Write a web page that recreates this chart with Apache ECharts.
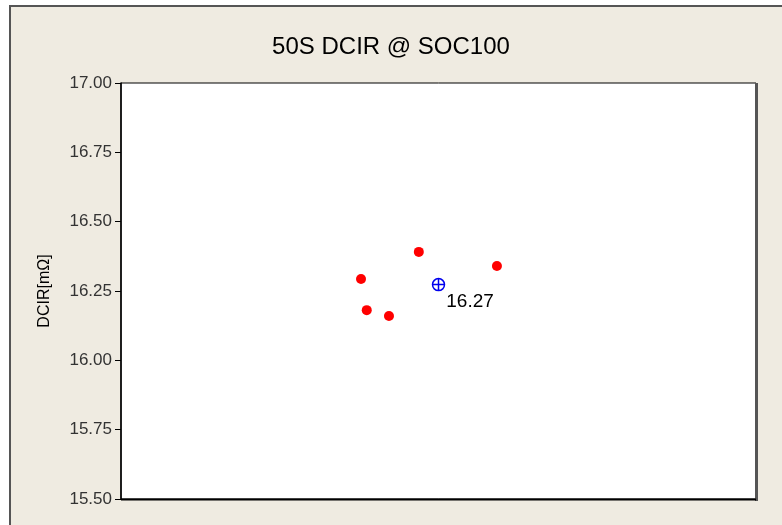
<!DOCTYPE html>
<html>
<head>
<meta charset="utf-8">
<script src="https://cdn.jsdelivr.net/npm/echarts@6/dist/echarts.min.js"></script>
<style>
html,body{margin:0;padding:0;background:#fff;}
#chart{width:782px;height:525px;}
</style>
</head>
<body>
<div id="chart"></div>
<script>
// Data
const titleText = "50S DCIR @ SOC100";
const yAxisName = "DCIR[mΩ]";
const dcirValues = [16.293, 16.181, 16.160, 16.391, 16.340];
const jitterX = [0.378, 0.387, 0.422, 0.469, 0.592];
const meanX = 0.5;
const yMin = 15.5, yMax = 17.0, yStep = 0.25;

const meanVal = dcirValues.reduce((a, b) => a + b, 0) / dcirValues.length;

const chart = echarts.init(document.getElementById('chart'), null, {renderer: 'canvas'});
const font = 'Liberation Sans, Arial, sans-serif';

chart.setOption({
  backgroundColor: '#ffffff',
  animation: false,
  graphic: [
    {type: 'rect', z: -10, silent: true,
     shape: {x: 10, y: 6, width: 800, height: 560},
     style: {fill: '#EFEBE1', stroke: '#555555', lineWidth: 2}},
    {type: 'line', z: 100, silent: true,
     shape: {x1: 756.5, y1: 83, x2: 756.5, y2: 501},
     style: {stroke: '#555555', lineWidth: 3}},
    {type: 'line', z: 100, silent: true,
     shape: {x1: 121, y1: 499.5, x2: 756, y2: 499.5},
     style: {stroke: '#000000', lineWidth: 2}}
  ],
  title: {
    text: titleText, left: 'center', top: 30,
    textStyle: {fontFamily: font, fontSize: 24, fontWeight: 'normal', color: '#000'}
  },
  grid: {
    left: 121, top: 83, right: 26, bottom: 26,
    show: true, backgroundColor: '#ffffff', borderColor: '#000', borderWidth: 1
  },
  xAxis: {
    type: 'value', min: 0, max: 1,
    show: false
  },
  yAxis: {
    type: 'value', min: yMin, max: yMax, interval: yStep,
    name: yAxisName, nameLocation: 'middle', nameGap: 68, nameRotate: 90,
    nameTextStyle: {fontFamily: font, fontSize: 16, color: '#000'},
    axisLine: {show: true, lineStyle: {color: '#000', width: 1.5}},
    axisTick: {show: true, length: 6, lineStyle: {color: '#000'}},
    axisLabel: {
      fontFamily: font, fontSize: 17, color: '#333', margin: 9,
      formatter: v => v.toFixed(2)
    },
    splitLine: {show: false}
  },
  series: [
    {
      type: 'scatter',
      symbol: 'circle', symbolSize: 10,
      itemStyle: {color: '#FF0000', opacity: 1},
      data: dcirValues.map((v, i) => [jitterX[i], v])
    },
    {
      type: 'scatter',
      symbol: 'path://M0,-10A10,10 0 1,1 0,10A10,10 0 1,1 0,-10ZM-10,0L10,0M0,-10L0,10',
      symbolSize: 12, symbolKeepAspect: true,
      itemStyle: {color: 'rgba(0,0,0,0)', borderColor: '#0000EE', borderWidth: 1.5, opacity: 1},
      label: {
        show: true, position: 'right', distance: 1, offset: [0, 17],
        fontFamily: font, fontSize: 19, color: '#000', fontWeight: 500,
        formatter: p => p.value[1].toFixed(2)
      },
      data: [[meanX, meanVal]],
      z: 5
    }
  ]
});
</script>
</body>
</html>
